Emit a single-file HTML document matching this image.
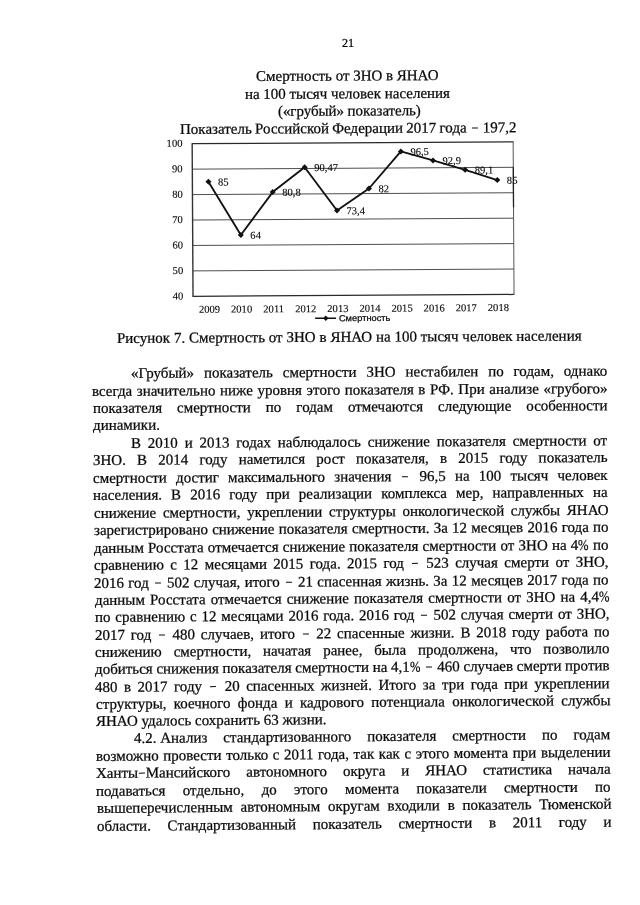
<!DOCTYPE html>
<html lang="ru"><head><meta charset="utf-8"><title>21</title>
<style>
html,body{margin:0;padding:0;background:#fff;}
body{width:640px;height:905px;position:relative;overflow:hidden;font-family:"Liberation Serif",serif;color:#0a0a0a;}
.l{position:absolute;white-space:nowrap;line-height:18px;height:18px;-webkit-text-stroke:0.25px #0a0a0a;}
.p{display:inline-block;transform:scaleX(0.84);transform-origin:0 0;margin-right:-2px;}.e.d{margin:0 0.75px;}.d{display:inline-block;width:6px;height:1.35px;margin:0 1.8px;background:#0a0a0a;vertical-align:4.0px;}
svg{position:absolute;left:0;top:0;}
svg text{font-family:"Liberation Serif",serif;fill:#0a0a0a;stroke:#0a0a0a;stroke-width:0.12px;}
#pg{position:absolute;left:0;top:0;width:640px;height:905px;background:#fff;filter:grayscale(1);}
</style></head><body><div id="pg">
<div class="l" style="left:341.90px;top:33.88px;font-size:12.2px;transform-origin:0 13.12px;transform:rotate(-0.300deg);">21</div>
<div class="l" style="left:256.40px;top:67.44px;font-size:15px;transform-origin:0 14.06px;transform:rotate(-0.300deg);word-spacing:-0.086px;">Смертность от ЗНО в ЯНАО</div>
<div class="l" style="left:245.40px;top:84.84px;font-size:15px;transform-origin:0 14.06px;transform:rotate(-0.300deg);word-spacing:-0.082px;">на 100 тысяч человек населения</div>
<div class="l" style="left:278.25px;top:102.14px;font-size:15px;transform-origin:0 14.06px;transform:rotate(-0.300deg);letter-spacing:-0.068px;">(«грубый» показатель)</div>
<div class="l" style="left:179.80px;top:119.84px;font-size:15px;transform-origin:0 14.06px;transform:rotate(-0.300deg);word-spacing:-0.489px;">Показатель Российской Федерации 2017 года <span class="d"></span> 197,2</div>
<div class="l" style="left:117.40px;top:329.24px;font-size:15px;transform-origin:0 14.06px;transform:rotate(-0.300deg);word-spacing:0.070px;">Рисунок 7. Смертность от ЗНО в ЯНАО на 100 тысяч человек населения</div>
<div class="l" style="left:130.62px;top:363.89px;font-size:15px;transform-origin:0 14.06px;transform:rotate(-0.290deg);word-spacing:6.093px;">«Грубый» показатель смертности ЗНО нестабилен по годам, однако</div>
<div class="l" style="left:92.40px;top:381.54px;font-size:15px;transform-origin:0 14.06px;transform:rotate(-0.298deg);word-spacing:0.840px;">всегда значительно ниже уровня этого показателя в РФ. При анализе «грубого»</div>
<div class="l" style="left:92.58px;top:398.99px;font-size:15px;transform-origin:0 14.06px;transform:rotate(-0.306deg);word-spacing:11.248px;">показателя смертности по годам отмечаются следующие особенности</div>
<div class="l" style="left:92.75px;top:416.45px;font-size:15px;transform-origin:0 14.06px;transform:rotate(-0.314deg);">динамики.</div>
<div class="l" style="left:131.33px;top:433.69px;font-size:15px;transform-origin:0 14.06px;transform:rotate(-0.322deg);word-spacing:3.074px;">В 2010 и 2013 годах наблюдалось снижение показателя смертности от</div>
<div class="l" style="left:93.10px;top:451.36px;font-size:15px;transform-origin:0 14.06px;transform:rotate(-0.329deg);word-spacing:7.430px;">ЗНО. В 2014 году наметился рост показателя, в 2015 году показатель</div>
<div class="l" style="left:93.28px;top:468.81px;font-size:15px;transform-origin:0 14.06px;transform:rotate(-0.337deg);word-spacing:5.459px;">смертности достиг максимального значения <span class="d"></span> 96,5 на 100 тысяч человек</div>
<div class="l" style="left:93.45px;top:486.26px;font-size:15px;transform-origin:0 14.06px;transform:rotate(-0.345deg);word-spacing:5.303px;">населения. В 2016 году при реализации комплекса мер, направленных на</div>
<div class="l" style="left:93.63px;top:503.72px;font-size:15px;transform-origin:0 14.06px;transform:rotate(-0.353deg);word-spacing:2.915px;">снижение смертности, укреплении структуры онкологической службы ЯНАО</div>
<div class="l" style="left:93.80px;top:521.17px;font-size:15px;transform-origin:0 14.06px;transform:rotate(-0.361deg);word-spacing:0.489px;">зарегистрировано снижение показателя смертности. За 12 месяцев 2016 года по</div>
<div class="l" style="left:93.98px;top:538.63px;font-size:15px;transform-origin:0 14.06px;transform:rotate(-0.369deg);word-spacing:0.448px;">данным Росстата отмечается снижение показателя смертности от ЗНО на 4<span class="p">%</span> по</div>
<div class="l" style="left:94.16px;top:556.08px;font-size:15px;transform-origin:0 14.06px;transform:rotate(-0.377deg);word-spacing:2.644px;">сравнению с 12 месяцами 2015 года. 2015 год <span class="d"></span> 523 случая смерти от ЗНО,</div>
<div class="l" style="left:94.33px;top:573.54px;font-size:15px;transform-origin:0 14.06px;transform:rotate(-0.384deg);word-spacing:0.562px;">2016 год <span class="d"></span> 502 случая, итого <span class="d"></span> 21 спасенная жизнь. За 12 месяцев 2017 года по</div>
<div class="l" style="left:94.51px;top:590.90px;font-size:15px;transform-origin:0 14.06px;transform:rotate(-0.392deg);word-spacing:1.390px;">данным Росстата отмечается снижение показателя смертности от ЗНО на 4,4<span class="p">%</span></div>
<div class="l" style="left:94.68px;top:608.25px;font-size:15px;transform-origin:0 14.06px;transform:rotate(-0.400deg);word-spacing:1.077px;">по сравнению с 12 месяцами 2016 года. 2016 год <span class="d"></span> 502 случая смерти от ЗНО,</div>
<div class="l" style="left:94.86px;top:625.61px;font-size:15px;transform-origin:0 14.06px;transform:rotate(-0.408deg);word-spacing:2.047px;">2017 год <span class="d"></span> 480 случаев, итого <span class="d"></span> 22 спасенные жизни. В 2018 году работа по</div>
<div class="l" style="left:95.03px;top:642.97px;font-size:15px;transform-origin:0 14.06px;transform:rotate(-0.416deg);word-spacing:8.113px;">снижению смертности, начатая ранее, была продолжена, что позволило</div>
<div class="l" style="left:95.20px;top:660.33px;font-size:15px;transform-origin:0 14.06px;transform:rotate(-0.423deg);word-spacing:-0.079px;">добиться снижения показателя смертности на 4,1<span class="p">%</span> <span class="d"></span> 460 случаев смерти против</div>
<div class="l" style="left:95.38px;top:677.68px;font-size:15px;transform-origin:0 14.06px;transform:rotate(-0.431deg);word-spacing:2.748px;">480 в 2017 году <span class="d"></span> 20 спасенных жизней. Итого за три года при укреплении</div>
<div class="l" style="left:95.55px;top:695.04px;font-size:15px;transform-origin:0 14.06px;transform:rotate(-0.439deg);word-spacing:3.523px;">структуры, коечного фонда и кадрового потенциала онкологической службы</div>
<div class="l" style="left:95.73px;top:712.40px;font-size:15px;transform-origin:0 14.06px;transform:rotate(-0.447deg);">ЯНАО удалось сохранить 63 жизни.</div>
<div class="l" style="left:134.30px;top:729.45px;font-size:15px;transform-origin:0 14.06px;transform:rotate(-0.455deg);word-spacing:12.228px;"><span style="word-spacing:0">4.2. Анализ</span> стандартизованного показателя смертности по годам</div>
<div class="l" style="left:96.08px;top:747.11px;font-size:15px;transform-origin:0 14.06px;transform:rotate(-0.463deg);word-spacing:0.847px;">возможно провести только с 2011 года, так как с этого момента при выделении</div>
<div class="l" style="left:96.25px;top:764.47px;font-size:15px;transform-origin:0 14.06px;transform:rotate(-0.470deg);word-spacing:12.170px;">Ханты<span class="d e"></span>Мансийского автономного округа и ЯНАО статистика начала</div>
<div class="l" style="left:96.43px;top:781.83px;font-size:15px;transform-origin:0 14.06px;transform:rotate(-0.478deg);word-spacing:13.546px;">подаваться отдельно, до этого момента показатели смертности по</div>
<div class="l" style="left:96.60px;top:799.19px;font-size:15px;transform-origin:0 14.06px;transform:rotate(-0.486deg);word-spacing:4.030px;">вышеперечисленным автономным округам входили в показатель Тюменской</div>
<div class="l" style="left:96.78px;top:816.55px;font-size:15px;transform-origin:0 14.06px;transform:rotate(-0.494deg);word-spacing:12.956px;">области. Стандартизованный показатель смертности в 2011 году и</div>
<svg width="640" height="905" viewBox="0 0 640 905">
<g transform="rotate(-0.33 353.1 219.1)">
<line x1="192.6" y1="142.80" x2="513.6" y2="142.80" stroke="#2a2a2a" stroke-width="1.25"/>
<text x="182.9" y="145.80" font-size="10.6" text-anchor="end">100</text>
<line x1="192.6" y1="168.23" x2="513.6" y2="168.23" stroke="#303030" stroke-width="0.85"/>
<text x="182.9" y="171.23" font-size="10.6" text-anchor="end">90</text>
<line x1="192.6" y1="193.67" x2="513.6" y2="193.67" stroke="#303030" stroke-width="0.85"/>
<text x="182.9" y="196.67" font-size="10.6" text-anchor="end">80</text>
<line x1="192.6" y1="219.10" x2="513.6" y2="219.10" stroke="#303030" stroke-width="0.85"/>
<text x="182.9" y="222.10" font-size="10.6" text-anchor="end">70</text>
<line x1="192.6" y1="244.53" x2="513.6" y2="244.53" stroke="#303030" stroke-width="0.85"/>
<text x="182.9" y="247.53" font-size="10.6" text-anchor="end">60</text>
<line x1="192.6" y1="269.97" x2="513.6" y2="269.97" stroke="#303030" stroke-width="0.85"/>
<text x="182.9" y="272.97" font-size="10.6" text-anchor="end">50</text>
<line x1="192.6" y1="295.40" x2="513.6" y2="295.40" stroke="#2a2a2a" stroke-width="1.25"/>
<text x="182.9" y="298.40" font-size="10.6" text-anchor="end">40</text>
<line x1="192.6" y1="142.2" x2="192.6" y2="296" stroke="#333" stroke-width="1.4"/>
<line x1="513.6" y1="142.2" x2="513.6" y2="296" stroke="#444" stroke-width="0.9"/>
<line x1="513.6" y1="168.233" x2="513.6" y2="208.233" stroke="#222" stroke-width="1.3"/>
<polyline fill="none" stroke="#111" stroke-width="1.85" stroke-linejoin="round" points="208.65,180.95 240.75,234.36 272.85,191.63 304.95,167.04 337.05,210.45 369.15,188.58 401.25,151.70 433.35,160.86 465.45,170.52 497.55,180.95"/>
<path d="M208.65 177.95 l3 3 l-3 3 l-3 -3 z" fill="#111"/>
<path d="M240.75 231.36 l3 3 l-3 3 l-3 -3 z" fill="#111"/>
<path d="M272.85 188.63 l3 3 l-3 3 l-3 -3 z" fill="#111"/>
<path d="M304.95 164.04 l3 3 l-3 3 l-3 -3 z" fill="#111"/>
<path d="M337.05 207.45 l3 3 l-3 3 l-3 -3 z" fill="#111"/>
<path d="M369.15 185.58 l3 3 l-3 3 l-3 -3 z" fill="#111"/>
<path d="M401.25 148.70 l3 3 l-3 3 l-3 -3 z" fill="#111"/>
<path d="M433.35 157.86 l3 3 l-3 3 l-3 -3 z" fill="#111"/>
<path d="M465.45 167.52 l3 3 l-3 3 l-3 -3 z" fill="#111"/>
<path d="M497.55 177.95 l3 3 l-3 3 l-3 -3 z" fill="#111"/>
<text x="218.15" y="184.75" font-size="10.6">85</text>
<text x="250.25" y="238.16" font-size="10.6">64</text>
<text x="282.35" y="195.43" font-size="10.6">80,8</text>
<text x="314.45" y="170.84" font-size="10.6">90,47</text>
<text x="346.55" y="214.25" font-size="10.6">73,4</text>
<text x="378.65" y="192.38" font-size="10.6">82</text>
<text x="410.75" y="155.50" font-size="10.6">96,5</text>
<text x="442.85" y="164.66" font-size="10.6">92,9</text>
<text x="474.95" y="174.32" font-size="10.6">89,1</text>
<text x="507.05" y="184.75" font-size="10.6">85</text>
<text x="208.95" y="311.90" font-size="10.6" text-anchor="middle">2009</text>
<text x="241.05" y="311.90" font-size="10.6" text-anchor="middle">2010</text>
<text x="273.15" y="311.90" font-size="10.6" text-anchor="middle">2011</text>
<text x="305.25" y="311.90" font-size="10.6" text-anchor="middle">2012</text>
<text x="337.35" y="311.90" font-size="10.6" text-anchor="middle">2013</text>
<text x="369.45" y="311.90" font-size="10.6" text-anchor="middle">2014</text>
<text x="401.55" y="311.90" font-size="10.6" text-anchor="middle">2015</text>
<text x="433.65" y="311.90" font-size="10.6" text-anchor="middle">2016</text>
<text x="465.75" y="311.90" font-size="10.6" text-anchor="middle">2017</text>
<text x="497.85" y="311.90" font-size="10.6" text-anchor="middle">2018</text>
<line x1="314.6" y1="318.1" x2="335.5" y2="318.1" stroke="#111" stroke-width="1.5"/>
<path d="M325.2 315.4 l2.7 2.7 l-2.7 2.7 l-2.7 -2.7 z" fill="#111"/>
<text x="338.3" y="321.1" font-size="8.8" style="font-family:'Liberation Sans',sans-serif;stroke-width:0.25px" textLength="51.6" lengthAdjust="spacingAndGlyphs">Смертность</text>
</g></svg>
</div></body></html>
